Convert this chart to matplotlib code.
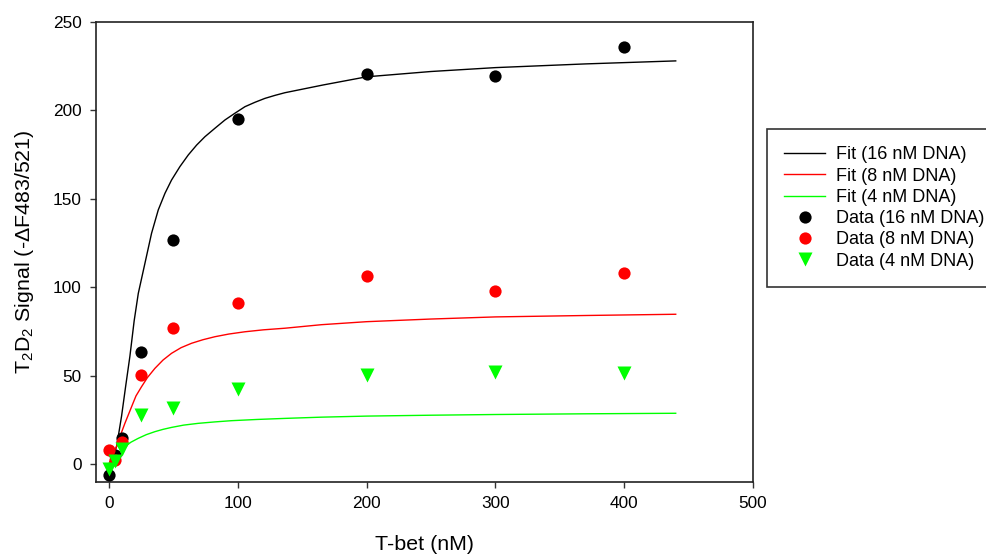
import matplotlib
matplotlib.use("Agg")
import matplotlib.pyplot as plt

plt.rcParams['font.family'] = ['Liberation Sans', 'DejaVu Sans']
plt.rcParams['mathtext.fontset'] = 'custom'
plt.rcParams['mathtext.rm'] = 'Liberation Sans'
plt.rcParams['mathtext.it'] = 'Liberation Sans:italic'

# Measured data (T-bet concentration, nM)
conc = [0, 5, 10, 25, 50, 100, 200, 300, 400]
data_16 = [-6, 5, 14.5, 63.5, 126.5, 195, 220.5, 219.5, 236]
data_8 = [8, 2.3, 12.6, 50.5, 77, 91, 106.3, 98, 108]
data_4 = [-3, 1.8, 8.5, 27.5, 31.8, 42.2, 50.5, 52, 51.5]

# Fit curves
fit16_x = [0, 3, 6, 9.8, 13, 16.3, 19.6, 22.8, 27.95, 33.1, 38.3, 43.5, 48.6, 55.1,
           61.6, 68.1, 74.5, 82.3, 90.1, 97.8, 105.6, 113.4, 121.1, 128.9, 136.6,
           166.4, 200, 250, 300, 370, 440]
fit16_y = [0, 4, 10, 27, 44, 61, 81, 96.5, 113.5, 130.5, 143.7, 153.1, 160.6, 168.2,
           174.8, 180.4, 185.1, 189.9, 194.6, 198.4, 202.1, 204.6, 206.8, 208.5, 210,
           214.4, 219, 222, 224.2, 226.3, 228]
fit8_x = [0, 4, 8.5, 12.4, 17.6, 21, 25.3, 30, 35.7, 42, 48.6, 56, 64.2, 73, 82.3,
          93, 105.6, 120, 136.6, 165, 200, 250, 300, 370, 440]
fit8_y = [0, 6, 15.4, 23, 32.4, 38.5, 43.7, 49, 54.1, 58.8, 62.6, 65.8, 68.3, 70.3,
          72, 73.5, 74.8, 75.9, 76.8, 78.8, 80.5, 82, 83.2, 84, 84.7]
fit4_x = [0, 3, 7.2, 12.4, 17, 22.7, 29, 35.7, 42, 48.6, 58, 69.3, 82, 95, 115,
          136.6, 165, 200, 250, 300, 370, 440]
fit4_y = [0, 2.8, 6, 9.8, 12.3, 14.5, 16.6, 18.3, 19.6, 20.7, 22, 23, 23.8, 24.5,
          25.2, 25.8, 26.5, 27.1, 27.6, 28, 28.4, 28.7]

fig = plt.figure(figsize=(9.86, 5.57), dpi=100)
ax = fig.add_axes([0.0974, 0.1352, 0.6663, 0.8253])

ax.plot(fit16_x, fit16_y, color='black', lw=1.0, label='Fit (16 nM DNA)', zorder=2)
ax.plot(fit8_x, fit8_y, color='#ff0000', lw=1.0, label='Fit (8 nM DNA)', zorder=2)
ax.plot(fit4_x, fit4_y, color='#00ff00', lw=1.0, label='Fit (4 nM DNA)', zorder=2)
ax.plot(conc, data_16, 'o', color='black', ms=8.8, mec='none', label='Data (16 nM DNA)', zorder=3)
ax.plot(conc, data_8, 'o', color='#ff0000', ms=8.8, mec='none', label='Data (8 nM DNA)', zorder=3)
ax.plot(conc, data_4, 'v', color='#00ff00', ms=9.5, mec='none', label='Data (4 nM DNA)', zorder=3)

ax.set_xlim(-10, 500)
ax.set_ylim(-10, 250)
ax.set_xticks([0, 100, 200, 300, 400, 500])
ax.set_yticks([0, 50, 100, 150, 200, 250])

for s in ax.spines.values():
    s.set_linewidth(1.2)
    s.set_color('#222222')
ax.tick_params(direction='out', length=4.5, width=1.0, color='#333333',
               labelsize=12.4, pad=6)

ax.set_xlabel('T-bet (nM)', fontsize=15.4, labelpad=17)
ax.set_ylabel(r'T$_2$D$_2$ Signal (-ΔF483/521)', fontsize=15.4, labelpad=12)

leg = ax.legend(loc='upper left', bbox_to_anchor=(0.778, 0.768),
                bbox_transform=fig.transFigure, fontsize=13, frameon=True,
                fancybox=False, shadow=False, handlelength=2.27,
                handletextpad=0.6, labelspacing=0.235, borderpad=0.95,
                borderaxespad=0)
leg.get_frame().set_edgecolor('black')
leg.get_frame().set_linewidth(1.2)

fig.savefig('out.png', dpi=100)
